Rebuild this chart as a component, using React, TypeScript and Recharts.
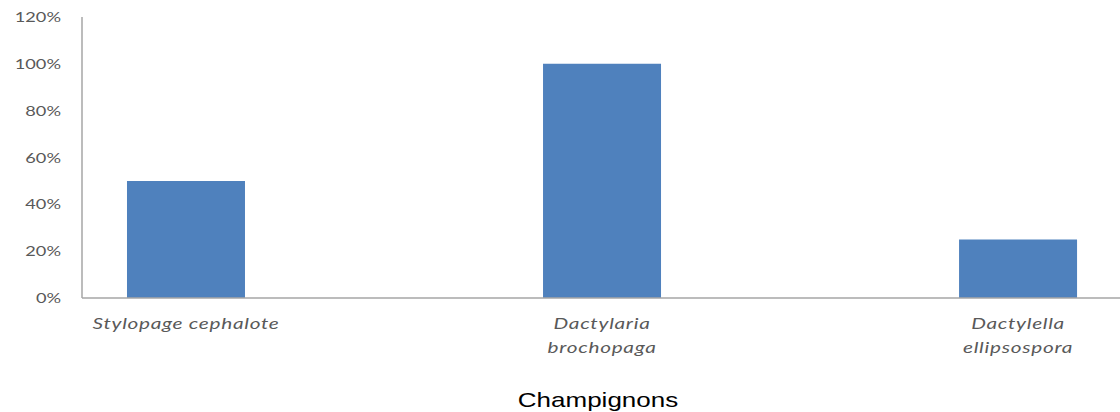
import { BarChart, Bar, XAxis, YAxis, Label } from "recharts"

const categories = ["Stylopage cephalote", "Dactylaria\nbrochopaga", "Dactylella\nellipsospora"]
const taux = [50, 100, 25]
const yTicks = [0, 20, 40, 60, 80, 100, 120]
const axisTitle = "Champignons"

const data = categories.map((name, idx) => ({ idx, name, taux: taux[idx] }))

// labels are drawn slightly stretched horizontally, like the Excel export
const STRETCH = 1.3

function YTick({ x, y, payload }: any) {
  return (
    <g transform={`translate(${x},${y})`}>
      <text
        transform={`scale(${STRETCH},1)`}
        textAnchor="end"
        dy="0.36em"
        fontFamily="Lato, sans-serif"
        fontSize={14}
        fill="#595959"
      >
        {`${payload.value}%`}
      </text>
    </g>
  )
}

function XTick({ x, y, payload }: any) {
  const lines = categories[payload.value].split("\n")
  return (
    <g transform={`translate(${x},${y})`}>
      <text
        transform={`scale(${STRETCH},1)`}
        textAnchor="middle"
        fontFamily="Lato, sans-serif"
        fontStyle="italic"
        fontSize={16}
        letterSpacing={0.55}
        fill="#595959"
      >
        {lines.map((line: string, i: number) => (
          <tspan key={i} x={0} y={i * 24}>
            {line}
          </tspan>
        ))}
      </text>
    </g>
  )
}

function AxisTitle({ viewBox }: any) {
  const cx = viewBox.x + viewBox.width / 2 - 3
  return (
    <g transform={`translate(${cx},407)`}>
      <text
        transform={`scale(${STRETCH},1)`}
        textAnchor="middle"
        fontFamily="'Liberation Sans', Arial, sans-serif"
        fontSize={20}
        fill="#000000"
      >
        {axisTitle}
      </text>
    </g>
  )
}

export default function App() {
  return (
    <div style={{ position: "absolute", left: 0, top: 0, background: "#ffffff" }}>
      <BarChart width={1120} height={412} data={data} margin={{ top: 17, right: 0, bottom: 0, left: 0 }}>
        <XAxis
          dataKey="idx"
          type="number"
          domain={[-0.25, 2.245]}
          allowDataOverflow
          ticks={[0, 1, 2]}
          height={114}
          stroke="#a6a6a6"
          strokeWidth={1.5}
          tickLine={false}
          tickSize={0}
          tickMargin={31}
          tick={<XTick />}
        >
          <Label content={<AxisTitle />} />
        </XAxis>
        <YAxis
          width={82}
          domain={[0, 120]}
          ticks={yTicks}
          interval={0}
          stroke="#a6a6a6"
          strokeWidth={1.5}
          tickLine={false}
          tickSize={0}
          tickMargin={21}
          tick={<YTick />}
        />
        <Bar dataKey="taux" fill="#4f81bd" barSize={118} isAnimationActive={false} />
      </BarChart>
    </div>
  )
}
